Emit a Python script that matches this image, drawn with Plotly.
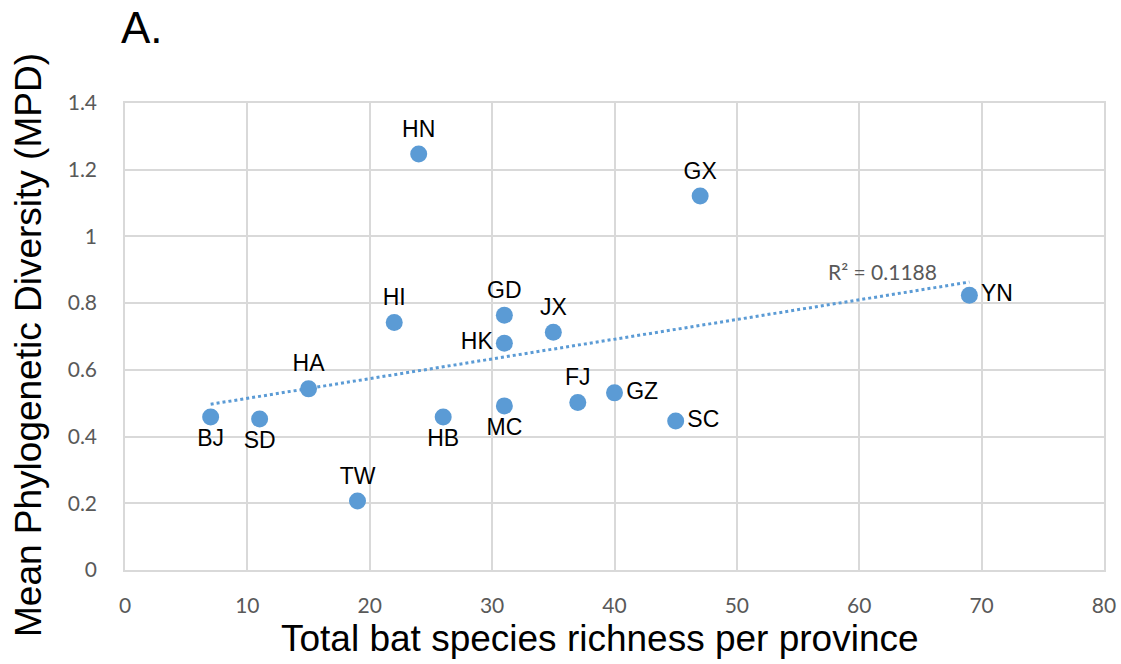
import numpy as np
import plotly.graph_objects as go

# Province codes, species richness and mean phylogenetic diversity
provinces = ["BJ", "SD", "HA", "TW", "HI", "HN", "HB", "GD", "HK", "MC",
             "JX", "FJ", "GZ", "SC", "GX", "YN"]
richness = [7, 11, 15, 19, 22, 24, 26, 31, 31, 31, 35, 37, 40, 45, 47, 69]
mpd = [0.459, 0.453, 0.543, 0.207, 0.742, 1.247, 0.459, 0.764, 0.680, 0.492,
       0.713, 0.502, 0.531, 0.447, 1.121, 0.824]
label_pos = ["bottom center", "bottom center", "top center", "top center",
             "top center", "top center", "bottom center", "top center",
             "middle left", "bottom center", "top center", "top center",
             "middle right", "middle right", "top center", "middle right"]
r2_text = "R² = 0.1188"
x_title = "Total bat species richness per province"
y_title = "Mean Phylogenetic Diversity (MPD)"

blue = "#5B9BD5"
grid = "#D9D9D9"
tick_grey = "#595959"
sans = "Liberation Sans, Arial"
tick_font = "Lato, Liberation Sans"

W, H = 1121, 664
L, R, T, B = 125, 17, 103, 94
PW, PH = W - L - R, H - T - B


def px_to_paper(px, py):
    """Convert page pixel position to paper coordinates."""
    return (px - L) / PW, (H - B - py) / PH


# Linear trend fitted to the data
slope, intercept = np.polyfit(richness, mpd, 1)
trend_x = np.array([min(richness), max(richness)])
trend_y = slope * trend_x + intercept

fig = go.Figure()
fig.add_trace(go.Scatter(
    x=trend_x, y=trend_y, mode="lines",
    line=dict(color=blue, width=3, dash="dot"),
    hoverinfo="skip", showlegend=False))
fig.add_trace(go.Scatter(
    x=richness, y=mpd, mode="markers+text",
    text=provinces, textposition=label_pos,
    textfont=dict(family=sans, size=23, color="black"),
    marker=dict(color=blue, size=17),
    showlegend=False))

fig.add_annotation(
    x=61.9, y=0.896, text=r2_text, showarrow=False,
    font=dict(family=tick_font, size=21, color=tick_grey))

ax, ay = px_to_paper(142, 28)
fig.add_annotation(
    x=ax, y=ay, xref="paper", yref="paper",
    text="A.", showarrow=False, xanchor="center", yanchor="middle",
    font=dict(family=sans, size=44, color="black"))

tx, ty = px_to_paper(600, 638)
fig.add_annotation(
    x=tx, y=ty, xref="paper", yref="paper",
    text=x_title, showarrow=False, xanchor="center", yanchor="middle",
    font=dict(family=sans, size=37, color="black"))

vx, vy = px_to_paper(28, 345)
fig.add_annotation(
    x=vx, y=vy, xref="paper", yref="paper", textangle=-90,
    text=y_title, showarrow=False, xanchor="center", yanchor="middle",
    font=dict(family=sans, size=37, color="black"))

axis_common = dict(
    showgrid=True, gridcolor=grid, gridwidth=1.5,
    showline=True, linecolor=grid, linewidth=1.5, mirror=True,
    zeroline=False, ticks="",
    tickfont=dict(family=tick_font, size=21, color=tick_grey),
)

fig.update_layout(
    width=W, height=H,
    margin=dict(l=L, r=R, t=T, b=B, autoexpand=False),
    paper_bgcolor="white", plot_bgcolor="white",
    xaxis=dict(range=[0, 80], dtick=10, ticklabelstandoff=16, **axis_common),
    yaxis=dict(range=[0, 1.4], dtick=0.2, ticklabelstandoff=22, **axis_common),
)

fig.write_html("out.html")
